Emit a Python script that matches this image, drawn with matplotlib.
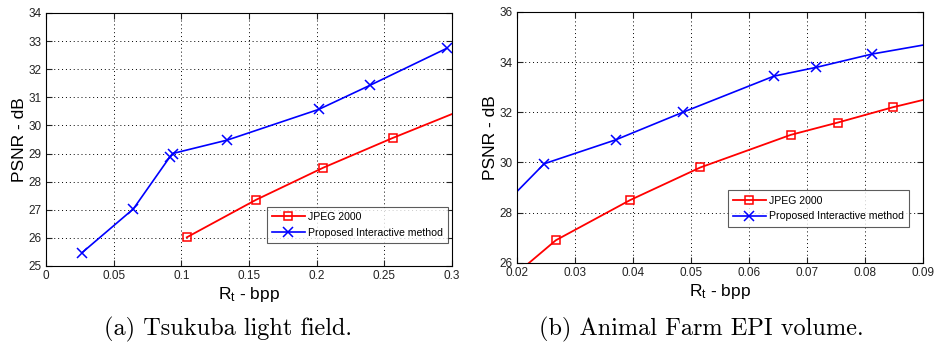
import matplotlib
matplotlib.use("Agg")
from matplotlib import pyplot as plt
from matplotlib import font_manager

# (a) Tsukuba light field
tsu_jpeg_x = [0.104, 0.155, 0.205, 0.256, 0.31]
tsu_jpeg_y = [26.02, 27.35, 28.50, 29.55, 30.60]
tsu_prop_x = [0.0265, 0.0645, 0.0915, 0.0935, 0.134, 0.2015, 0.2395, 0.296]
tsu_prop_y = [25.47, 27.03, 28.88, 29.00, 29.48, 30.57, 31.43, 32.74]
tsu_xticks = [0, 0.05, 0.1, 0.15, 0.2, 0.25, 0.3]
tsu_xlabels = ["0", "0.05", "0.1", "0.15", "0.2", "0.25", "0.3"]
tsu_yticks = [25, 26, 27, 28, 29, 30, 31, 32, 33, 34]

# (b) Animal Farm EPI volume
af_jpeg_x = [0.018, 0.0267, 0.0395, 0.0516, 0.0672, 0.0753, 0.0848, 0.095]
af_jpeg_y = [25.20, 26.90, 28.50, 29.80, 31.10, 31.59, 32.20, 32.77]
af_prop_x = [0.016, 0.0247, 0.037, 0.0487, 0.0643, 0.0716, 0.0812, 0.095]
af_prop_y = [27.90, 29.95, 30.90, 32.01, 33.44, 33.79, 34.32, 34.88]
af_xticks = [0.02, 0.03, 0.04, 0.05, 0.06, 0.07, 0.08, 0.09]
af_xlabels = ["0.02", "0.03", "0.04", "0.05", "0.06", "0.07", "0.08", "0.09"]
af_yticks = [26, 28, 30, 32, 34, 36]

labels = ["JPEG 2000", "Proposed Interactive method"]
captions = ["(a) Tsukuba light field.", "(b) Animal Farm EPI volume."]

plt.rcParams["font.family"] = ["Liberation Sans", "DejaVu Sans"]
plt.rcParams["mathtext.default"] = "regular"

# narrow font for ticks/legend if it is there
names = set(f.name for f in font_manager.fontManager.ttflist)
narrow = "Liberation Sans Narrow" if "Liberation Sans Narrow" in names else "Liberation Sans"
small = 9 if narrow != "Liberation Sans" else 7.6

fig = plt.figure(figsize=(9.34, 3.5), dpi=100)
ax1 = fig.add_axes([0.0493, 0.240, 0.4347, 0.723])
ax2 = fig.add_axes([0.5535, 0.249, 0.4347, 0.717])


def draw(ax, jx, jy, px, py, xt, xl, yt, xlim, ylim, legpos):
    ax.plot(jx, jy, color="#ff0000", lw=1.3, marker="s", ms=6,
            mfc="none", mew=1.1, label=labels[0])
    ax.plot(px, py, color="#0000ff", lw=1.2, marker="x", ms=7,
            mew=1.1, label=labels[1])
    ax.set_xlim(xlim)
    ax.set_ylim(ylim)
    ax.set_xticks(xt)
    ax.set_xticklabels(xl, family=narrow)
    ax.set_yticks(yt)
    ax.set_yticklabels([str(v) for v in yt], family=narrow)
    ax.grid(True, color="black", linestyle=(0, (1, 3)), linewidth=0.7)
    ax.tick_params(direction="in", length=4, top=True, right=True,
                   labelsize=8.5, colors="#222222", pad=3)
    for s in ax.spines.values():
        s.set_linewidth(0.8)
    ax.set_xlabel("R$_{t}$ - bpp", fontsize=12.5, labelpad=2)
    ax.set_ylabel("PSNR - dB", fontsize=12.5, labelpad=1)
    leg = ax.legend(loc="lower left", bbox_to_anchor=legpos,
                    prop={"family": narrow, "size": small},
                    frameon=True, fancybox=False, handlelength=3.1,
                    borderpad=0.5, labelspacing=0.55, handletextpad=0.3,
                    borderaxespad=0)
    leg.get_frame().set_edgecolor("#333333")
    leg.get_frame().set_linewidth(0.8)


draw(ax1, tsu_jpeg_x, tsu_jpeg_y, tsu_prop_x, tsu_prop_y, tsu_xticks,
     tsu_xlabels, tsu_yticks, (0, 0.3), (25, 34), (0.543, 0.091))
draw(ax2, af_jpeg_x, af_jpeg_y, af_prop_x, af_prop_y, af_xticks,
     af_xlabels, af_yticks, (0.02, 0.09), (26, 36), (0.519, 0.144))

fig.text(0.244, 0.060, captions[0], family="cmr10", fontsize=17.5,
         ha="center", va="center")
fig.text(0.751, 0.060, captions[1], family="cmr10", fontsize=17.5,
         ha="center", va="center")

fig.savefig("out.png", dpi=100)
